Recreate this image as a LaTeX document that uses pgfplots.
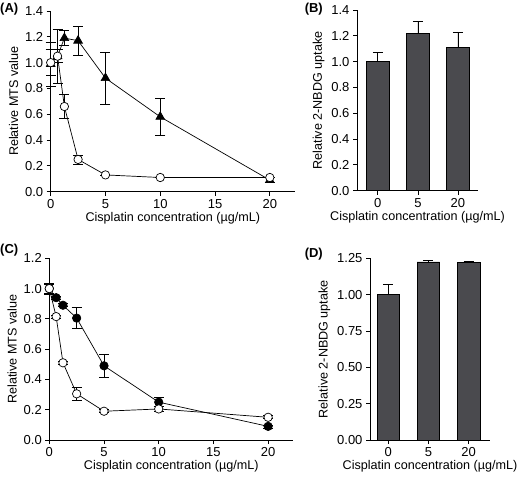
\documentclass[border=0pt]{standalone}
\usepackage{pgfplots}
\pgfplotsset{compat=1.18}
\usepackage{fontspec}
\setmainfont{Liberation Sans}
\definecolor{bargray}{HTML}{4A4A4E}
\pgfplotsset{
  panel/.style={
    scale only axis,
    axis lines=left,
    axis line style={-, line width=0.8pt},
    every tick/.style={line width=0.8pt, black},
    tick align=outside,
    major tick length=4pt,
    /pgf/number format/assume math mode=true,
    tick label style={font=\fontsize{13}{15}\selectfont},
    label style={font=\fontsize{12.6}{15}\selectfont},
    xlabel style={yshift=3pt},
    clip=false,
  },
  linepanel/.style={
    panel,
    xmin=0, xmax=22.3, ymin=0,
    xtick={0,5,10,15,20},
    xlabel={Cisplatin concentration (µg/mL)},
    ylabel={Relative MTS value},
    yticklabel style={/pgf/number format/.cd, fixed, fixed zerofill, precision=1},
  },
  eb/.style={
    error bars/.cd, y dir=both, y explicit,
    error bar style={line width=0.7pt, black},
    error mark options={rotate=90, mark size=5pt, line width=0.7pt, black},
  },
  ebplus/.style={
    error bars/.cd, y dir=plus, y explicit,
    error bar style={line width=0.8pt, black},
    error mark options={rotate=90, mark size=5pt, line width=0.8pt, black},
  },
}
\begin{document}
\begin{tikzpicture}
\useasboundingbox (0pt,0pt) rectangle (522pt,480pt);

% Panel A
\begin{axis}[linepanel,
  at={(50.7pt,288.3pt)}, anchor=south west,
  width=244.3pt, height=180.7pt,
  ymax=1.4, ytick={0,0.2,...,1.4},
]
\addplot[black, line width=0.7pt, mark=triangle*, mark size=5pt, mark options={fill=black}, eb]
  table[x=x, y=y, y error=e] {
x y e
0 0.99 0.17
0.625 1.05 0.21
1.25 1.19 0.06
2.5 1.17 0.11
5 0.88 0.20
10 0.58 0.14
20 0.09 0.02
};
\addplot[black, line width=0.7pt, mark=*, mark size=4.2pt, mark options={fill=white}, eb]
  table[x=x, y=y, y error=e] {
x y e
0 1.00 0.10
0.625 1.05 0.05
1.25 0.66 0.095
2.5 0.25 0.035
5 0.13 0.0
10 0.11 0.0
20 0.11 0.0
};
\end{axis}

% Panel B
\begin{axis}[panel,
  at={(357pt,289.3pt)}, anchor=south west,
  width=121pt, height=180.7pt,
  xmin=-0.52, xmax=2.5, ymin=0, ymax=1.4,
  ytick={0,0.2,...,1.4},
  yticklabel style={/pgf/number format/.cd, fixed, fixed zerofill, precision=1},
  xtick={0,1,2}, xticklabels={0,5,20},
  xlabel={Cisplatin concentration (µg/mL)},
  ylabel={Relative 2-NBDG uptake},
]
\addplot[ybar, bar width=23pt, fill=bargray, draw=black, line width=0.7pt, ebplus]
  table[x=x, y=y, y error=e] {
x y e
0 1.00 0.07
1 1.22 0.09
2 1.11 0.12
};
\end{axis}

% Panel C
\begin{axis}[linepanel,
  at={(49.3pt,40pt)}, anchor=south west,
  width=244pt, height=181.7pt,
  ymax=1.2, ytick={0,0.2,...,1.2},
]
\addplot[black, line width=0.7pt, mark=*, mark size=4.2pt, mark options={fill=black}, eb]
  table[x=x, y=y, y error=e] {
x y e
0 1.00 0.035
0.625 0.94 0.01
1.25 0.89 0.01
2.5 0.805 0.07
5 0.49 0.075
10 0.25 0.03
20 0.09 0.01
};
\addplot[black, line width=0.7pt, mark=*, mark size=4.2pt, mark options={fill=white}, eb]
  table[x=x, y=y, y error=e] {
x y e
0 1.00 0.03
0.625 0.815 0.01
1.25 0.51 0.01
2.5 0.305 0.04
5 0.19 0.01
10 0.205 0.015
20 0.15 0.01
};
\end{axis}

% Panel D
\begin{axis}[panel,
  at={(370pt,40pt)}, anchor=south west,
  width=120pt, height=181.7pt,
  xmin=-0.454, xmax=2.53, ymin=0, ymax=1.25,
  ytick={0,0.25,...,1.25},
  yticklabel style={/pgf/number format/.cd, fixed, fixed zerofill, precision=2},
  xtick={0,1,2}, xticklabels={0,5,20},
  xlabel={Cisplatin concentration (µg/mL)},
  ylabel={Relative 2-NBDG uptake},
]
\addplot[ybar, bar width=22.5pt, fill=bargray, draw=black, line width=0.7pt, ebplus]
  table[x=x, y=y, y error=e] {
x y e
0 1.00 0.07
1 1.225 0.008
2 1.22 0.006
};
\end{axis}

\node[font=\bfseries\fontsize{13}{15}\selectfont, anchor=north west, inner sep=0pt] at (0pt,477pt) {(A)};
\node[font=\bfseries\fontsize{13}{15}\selectfont, anchor=north east, inner sep=0pt] at (323pt,477pt) {(B)};
\node[font=\bfseries\fontsize{13}{15}\selectfont, anchor=north west, inner sep=0pt] at (0pt,236pt) {(C)};
\node[font=\bfseries\fontsize{13}{15}\selectfont, anchor=north east, inner sep=0pt] at (323pt,232pt) {(D)};
\end{tikzpicture}
\end{document}
